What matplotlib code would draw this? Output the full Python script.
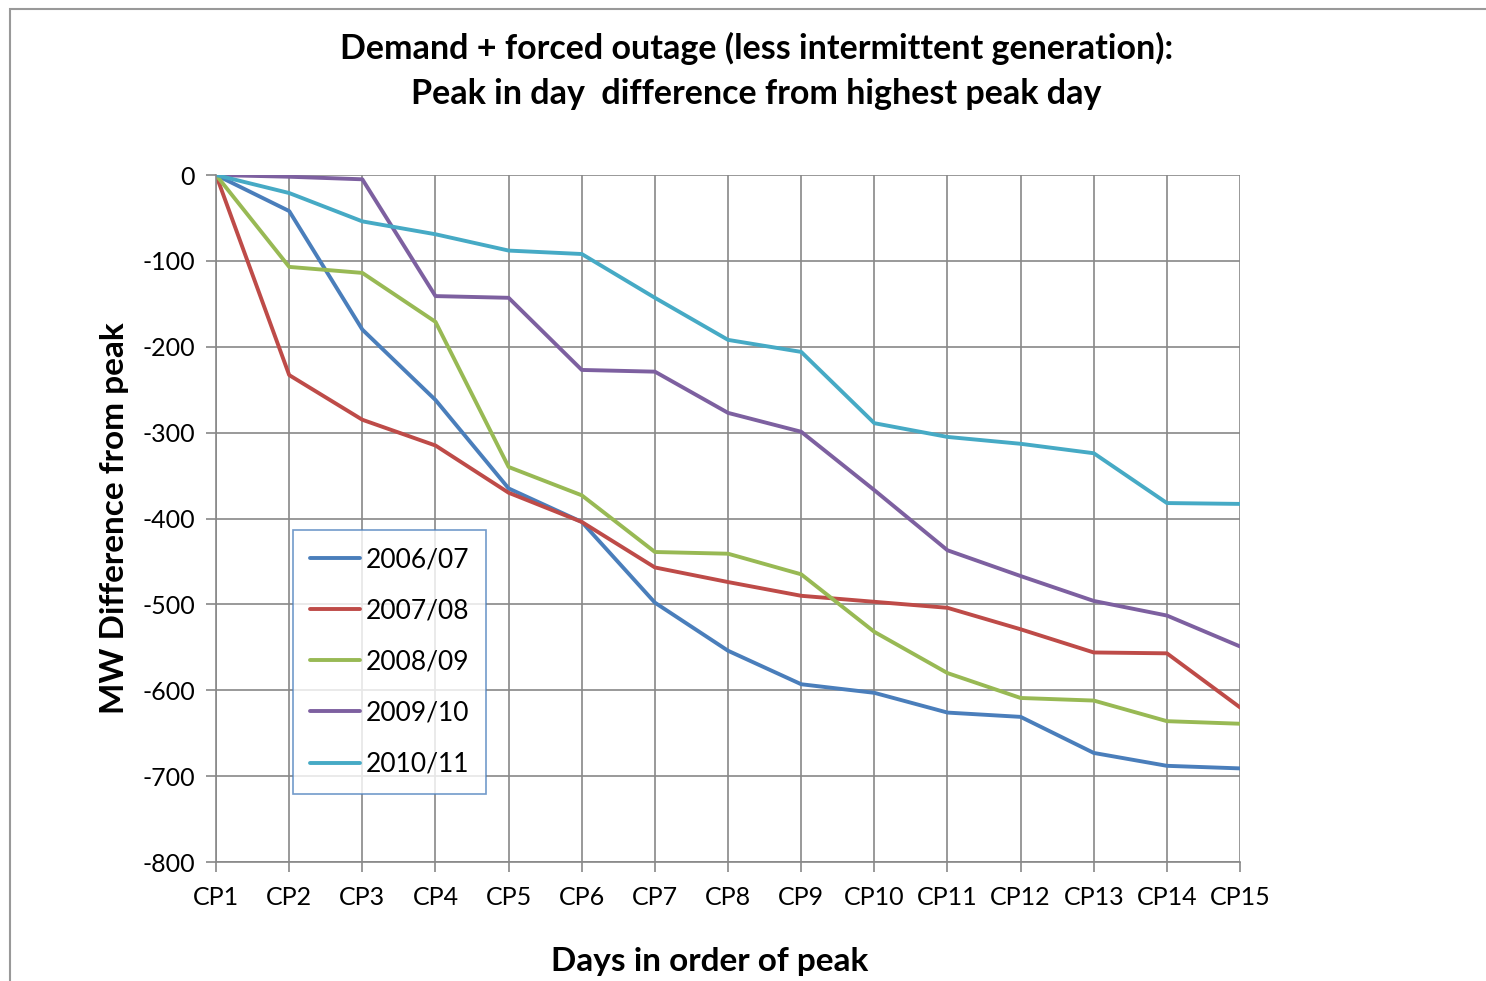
import matplotlib.pyplot as plt
from matplotlib.patches import Rectangle

days = ['CP1', 'CP2', 'CP3', 'CP4', 'CP5', 'CP6', 'CP7', 'CP8', 'CP9', 'CP10',
        'CP11', 'CP12', 'CP13', 'CP14', 'CP15']

s_2006 = [0, -42, -180, -262, -365, -404, -498, -554, -593, -603, -626, -631, -673, -688, -691]
s_2007 = [0, -233, -285, -315, -370, -404, -457, -474, -490, -497, -504, -529, -556, -557, -620]
s_2008 = [0, -107, -114, -171, -340, -373, -439, -441, -465, -532, -580, -609, -612, -636, -639]
s_2009 = [0, -2, -5, -141, -143, -227, -229, -277, -299, -367, -437, -467, -496, -513, -549]
s_2010 = [0, -21, -54, -69, -88, -92, -143, -192, -206, -289, -305, -313, -324, -382, -383]

labels = ['2006/07', '2007/08', '2008/09', '2009/10', '2010/11']
colors = ['#4A7EBB', '#BE4B48', '#98B954', '#7D60A0', '#46AAC5']

plt.rcParams['font.family'] = ['Lato', 'DejaVu Sans']
plt.rcParams['axes.unicode_minus'] = False

fig = plt.figure(figsize=(14.86, 9.81), dpi=100)
ax = fig.add_axes([0.1454, 0.1213, 0.6891, 0.7003])

x = list(range(len(days)))
for data, lab, col in zip([s_2006, s_2007, s_2008, s_2009, s_2010], labels, colors):
    ax.plot(x, data, color=col, linewidth=2.8, label=lab, solid_capstyle='round')

ax.set_xlim(0, len(days) - 1)
ax.set_ylim(-800, 0)
ax.set_xticks(x)
ax.set_xticklabels(days)
ax.set_yticks(range(-800, 1, 100))
ax.tick_params(axis='both', labelsize=18, color='#888888', length=7, width=1.2)
ax.tick_params(axis='x', pad=10)
ax.tick_params(axis='y', pad=8)
ax.grid(True, color='#888888', linewidth=1.2)
ax.set_axisbelow(True)
for side in ['top', 'right']:
    ax.spines[side].set_visible(False)
for side in ['left', 'bottom']:
    ax.spines[side].set_color('#888888')
    ax.spines[side].set_linewidth(1.2)

ax.set_xlabel('Days in order of peak', fontsize=24, fontweight='bold', labelpad=28)
ax.xaxis.set_label_coords(0.482, -0.124)
ax.set_ylabel('MW Difference from peak', fontsize=24, fontweight='bold', labelpad=10)

fig.text(0.509, 0.951, 'Demand + forced outage (less intermittent generation):',
         ha='center', va='center', fontsize=24.5, fontweight='bold')
fig.text(0.509, 0.904, 'Peak in day  difference from highest peak day',
         ha='center', va='center', fontsize=24.5, fontweight='bold')

leg = ax.legend(loc='upper left', bbox_to_anchor=(0.075, 0.483), fontsize=19,
                frameon=True, fancybox=False, borderpad=0.65, labelspacing=0.99,
                handlelength=1.9, handletextpad=0.2, borderaxespad=0)
leg.get_frame().set_edgecolor('#4F81BD')
leg.get_frame().set_linewidth(1.2)

fig.patches.append(Rectangle((10 / 1486, -0.1), 1.2, 1.1 - 9 / 981,
                             transform=fig.transFigure, fill=False,
                             edgecolor='#999999', linewidth=1.5))

fig.savefig('out.png', dpi=100)
